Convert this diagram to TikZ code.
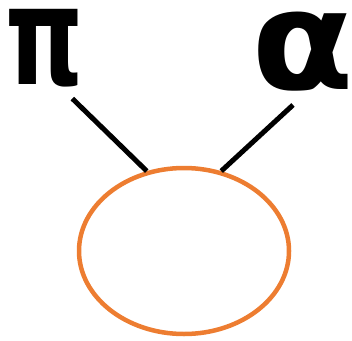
\documentclass[tikz,border=0pt]{standalone}
\usepackage{fontspec}
\newfontfamily\glyphfont{DejaVu Sans}
\usetikzlibrary{shapes.geometric,calc}
\definecolor{ringorange}{HTML}{ED7D31}

\begin{document}
\begin{tikzpicture}[x=1pt,y=-1pt,
 glyph/.style={inner sep=0pt,font=\glyphfont\bfseries\fontsize{110}{110}\selectfont},
 ring/.style={ellipse,draw=ringorange,line width=4.5pt,minimum width=210pt,minimum height=166pt,inner sep=0pt},
 leg/.style={line width=5pt}]
\useasboundingbox (0,0) rectangle (352,340);
\node[glyph] (pi) at (45,48.5) {\scalebox{0.9}[1.25]{π}};
\node[glyph] (alpha) at (303,52) {\scalebox{1.36}[1.26]{α}};
\node[ring] (ell) at (184,251) {};
\draw[leg] ($(pi.south east)+(-12,11)$) -- (ell.115);
\draw[leg] ($(alpha.south)+(-10,13)$) -- (ell.65);
\end{tikzpicture}
\end{document}
